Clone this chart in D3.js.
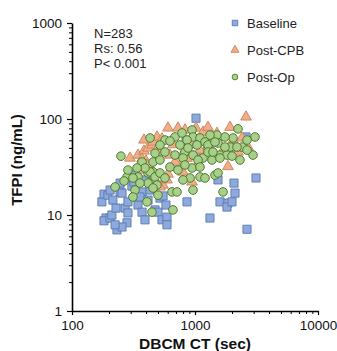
<!DOCTYPE html>
<html>
<head>
<meta charset="utf-8">
<script src="https://cdn.jsdelivr.net/npm/d3@7"></script>
<style>
  body { margin: 0; background: #fff; }
  svg text { font-family: Arial, "Liberation Sans", sans-serif; }
</style>
</head>
<body>
<div id="chart"></div>
<script>
// DBCM CT (sec) vs TFPI (ng/mL)
const baseline = [
  [175,13.7],[182,16.5],[196,16.1],[204,18.2],[215,14.3],[189,9.3],[182,8.7],[204,9.3],
  [232,7.0],[211,10.0],[228,11.8],[246,17.4],[255,16.9],[270,11.8],[285,10.5],[280,8.3],
  [255,7.5],[224,7.9],[285,13.7],[307,20.0],[319,22.1],[344,12.7],[371,10.7],[371,17.4],
  [357,15.4],[392,8.9],[415,14.3],[431,18.2],[447,22.1],[473,11.3],[500,10.7],[519,15.0],
  [550,15.8],[539,8.9],[592,9.5],[592,7.9],[581,12.7],[519,20.5],[392,23.2],[325,26.1],
  [246,21.5],[1019,102],[861,13.7],[1538,23.2],[1596,13.7],[1854,13.3],[1820,12.1],
  [1999,13.7],[2075,21.5],[2115,16.9],[3133,24.3],[2647,7.1],[2598,65],[2037,51],
  [1019,42],[845,60],[1324,9.3]
];
const postCPB = [
  [296,39.2],[344,42],[385,46.4],[415,49.9],[447,53.6],[371,38.3],[400,36.5],[385,60.4],
  [456,57.6],[491,65],[491,48.7],[539,62],[603,80.6],[626,42.1],[662,54],[603,26.7],
  [549,20.5],[755,33],[784,42],[799,28],[861,39],[727,80.6],[829,77],[1019,80.6],
  [1161,73],[1275,82],[1400,65],[1510,71],[1926,82],[2598,105],[2237,45.3],[1854,32],
  [2195,50],[2697,51],[2410,63.4],[2037,60],[447,29.4],[473,23.2],[519,19.6],[592,23.2],
  [946,22.1],[1019,31.6],[407,33.2],[371,29.4],[519,45.3],[688,35.6],[911,53.6],
  [1098,47.5],[1324,51],[1658,45.3]
];
const postOp = [
  [250,41],[431,63.4],[371,35.6],[280,24.9],[265,22.6],[344,24.9],[313,24.3],[415,27.4],
  [415,21.5],[224,19.6],[325,18.2],[313,15.4],[407,13.7],[447,10.7],[456,28.1],
  [570,60.4],[688,65],[784,71.5],[946,76.8],[964,65],[861,60.4],[1098,63.4],[1206,57.6],
  [473,44],[570,45.3],[688,42.1],[1038,53.6],[1275,49.9],[829,45.3],[799,39.2],[964,42.1],
  [1161,39.2],[1058,37.4],[456,35.6],[519,37.4],[626,31.6],[431,28.1],[473,24.9],
  [519,27.4],[570,24.3],[946,30.9],[1098,31.6],[911,24.3],[1098,24.9],[799,23.2],
  [491,20.5],[456,19.1],[650,17.4],[714,17.4],[964,18.2],[662,11.3],
  [2237,79],[3074,65],[2648,60.4],[2410,51],[2037,63.4],[1753,65],[1510,68],[1324,68],
  [1538,56.2],[1275,53.6],[1926,51],[2195,51],[2962,42.1],[2648,47.5],[1275,45.3],
  [1596,42.1],[1820,42.1],[1374,37.4],[1596,39.2],[1206,24.3],[1454,26],[1538,27.4],
  [1690,17.4],
  [519,53.6],[626,59],[755,53.6],[877,49.9],[1400,45.3],[1999,41.1],[2322,37.4],
  [727,29.4],[829,33.2],[392,30.9],[357,21.5],[500,16.1],[338,30.9],[285,29.4],
  [1753,51],[1454,57.6]
];

const seriesNames = ["Baseline", "Post-CPB", "Post-Op"];
const statLines = ["N=283", "Rs: 0.56", "P< 0.001"];
const xMajor = [100, 1000, 10000];
const yMajor = [1, 10, 100, 1000];

const width = 337, height = 351;
const svg = d3.select("#chart").append("svg")
  .attr("width", width)
  .attr("height", height);

const x = d3.scaleLog().domain([100, 10000]).range([72, 318]);
const y = d3.scaleLog().domain([1, 1000]).range([311, 23]);

// minor ticks 2..9 in each decade
const minors = dom => {
  const out = [];
  for (let d = dom[0]; d < dom[1]; d *= 10)
    for (let k = 2; k <= 9; k++) out.push(d * k);
  return out;
};

// Y axis
svg.append("g")
  .attr("transform", "translate(72,0)")
  .call(d3.axisLeft(y).tickValues(minors([1, 1000])).tickSize(3).tickFormat(""))
  .call(g => g.select(".domain").remove())
  .selectAll("line").attr("stroke", "#000").attr("stroke-width", 1);
const yAx = svg.append("g")
  .attr("transform", "translate(72,0)")
  .call(d3.axisLeft(y).tickValues(yMajor).tickSize(5).tickSizeOuter(0).tickPadding(5).tickFormat(d3.format("d")));

// X axis
svg.append("g")
  .attr("transform", "translate(0,311)")
  .call(d3.axisBottom(x).tickValues(minors([100, 10000])).tickSize(3).tickFormat(""))
  .call(g => g.select(".domain").remove())
  .selectAll("line").attr("stroke", "#000").attr("stroke-width", 1);
const xAx = svg.append("g")
  .attr("transform", "translate(0,311)")
  .call(d3.axisBottom(x).tickValues(xMajor).tickSize(4).tickSizeOuter(0).tickPadding(5).tickFormat(d3.format("d")));

[xAx, yAx].forEach(g => {
  g.select(".domain").attr("stroke", "#000").attr("stroke-width", 1.6);
  g.selectAll("line").attr("stroke", "#000").attr("stroke-width", 1.2);
  g.selectAll("text").attr("font-size", 13.5).attr("fill", "#111")
    .attr("font-family", "Arial, 'Liberation Sans', sans-serif");
});

// points
const styles = {
  "Baseline": { fill: "#8eaadc", stroke: "#5878b0" },
  "Post-CPB": { fill: "#f2ad85", stroke: "#c58460" },
  "Post-Op":  { fill: "#a8d08b", stroke: "#4f7a2e" }
};

svg.append("g").selectAll("path")
  .data(baseline)
  .enter().append("path")
  .attr("d", d3.symbol(d3.symbolSquare, 66))
  .attr("transform", d => "translate(" + x(d[0]) + "," + y(d[1]) + ")")
  .attr("fill", styles["Baseline"].fill)
  .attr("stroke", styles["Baseline"].stroke)
  .attr("stroke-width", 0.9);

svg.append("g").selectAll("path")
  .data(postCPB)
  .enter().append("path")
  .attr("d", d3.symbol(d3.symbolTriangle, 50))
  .attr("transform", d => "translate(" + x(d[0]) + "," + y(d[1]) + ")")
  .attr("fill", styles["Post-CPB"].fill)
  .attr("stroke", styles["Post-CPB"].stroke)
  .attr("stroke-width", 0.9);

svg.append("g").selectAll("circle")
  .data(postOp)
  .enter().append("circle")
  .attr("cx", d => x(d[0]))
  .attr("cy", d => y(d[1]))
  .attr("r", 4.3)
  .attr("fill", styles["Post-Op"].fill)
  .attr("stroke", styles["Post-Op"].stroke)
  .attr("stroke-width", 1);

// stats text
svg.append("g").selectAll("text")
  .data(statLines)
  .enter().append("text")
  .attr("x", 94)
  .attr("y", (d, i) => 38 + i * 15)
  .attr("font-size", 13)
  .attr("fill", "#222")
  .text(d => d);

// legend
const legendSym = [d3.symbolSquare, d3.symbolTriangle, d3.symbolCircle];
const legendSize = [30, 28, 26];
const leg = svg.append("g").selectAll("g")
  .data(seriesNames)
  .enter().append("g")
  .attr("transform", (d, i) => "translate(235," + (23 + i * 27) + ")");
leg.append("path")
  .attr("d", (d, i) => d3.symbol(legendSym[i], legendSize[i])())
  .attr("fill", d => styles[d].fill)
  .attr("stroke", d => styles[d].stroke)
  .attr("stroke-width", 0.9);
leg.append("text")
  .attr("x", 12)
  .attr("dy", "0.35em")
  .attr("font-size", 13)
  .attr("fill", "#222")
  .text(d => d);

// axis titles
svg.append("text")
  .attr("transform", "translate(22,160) rotate(-90)")
  .attr("text-anchor", "middle")
  .attr("font-size", 15)
  .attr("font-weight", "bold")
  .attr("fill", "#111")
  .text("TFPI (ng/mL)");

svg.append("text")
  .attr("x", 195)
  .attr("y", 349)
  .attr("text-anchor", "middle")
  .attr("font-size", 15.5)
  .attr("font-weight", "bold")
  .attr("fill", "#111")
  .text("DBCM CT (sec)");
</script>
</body>
</html>
